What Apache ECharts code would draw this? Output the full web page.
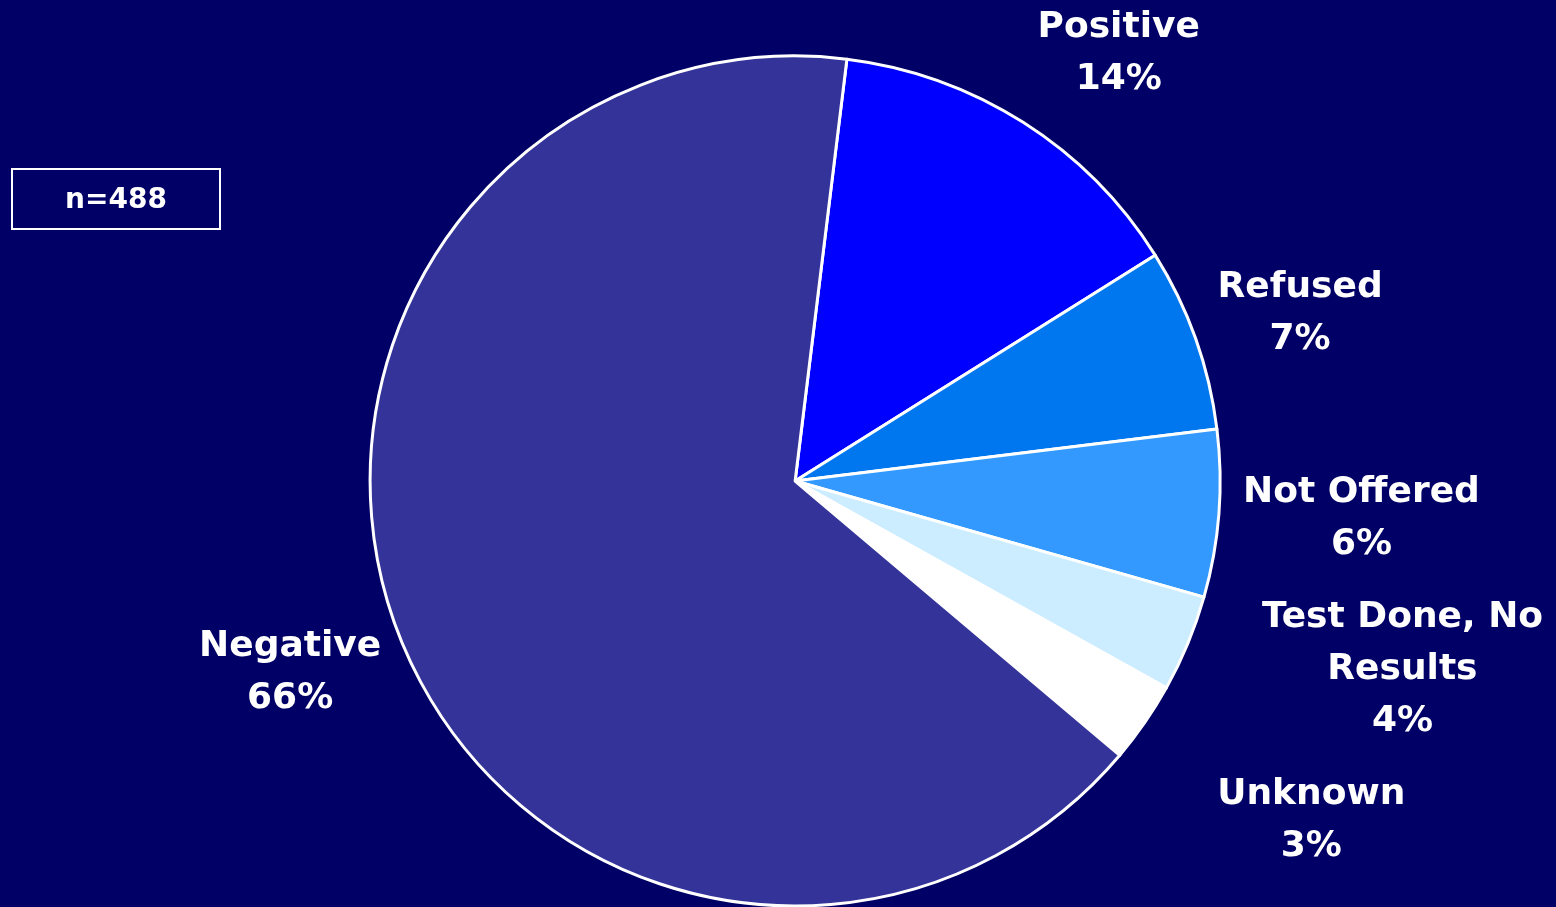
<!DOCTYPE html>
<html>
<head>
<meta charset="utf-8">
<script src="https://cdn.jsdelivr.net/npm/echarts@6/dist/echarts.min.js"></script>
<style>
html,body{margin:0;padding:0;background:#000066;}
#chart{width:1556px;height:907px;}
</style>
</head>
<body>
<div id="chart"></div>
<script>
// Data (counts out of n = 488)
const categories = ['Positive', 'Refused', 'Not Offered', 'Test Done, No Results', 'Unknown', 'Negative'];
const counts = [69, 34, 31, 18, 15, 321];
const sampleLabel = 'n=488';
const colors = ['#0000FF', '#0077EE', '#3399FF', '#CCECFF', '#FFFFFF', '#333399'];
// small label nudges (layout only), per slice [dx, dy]
const labelNudge = [[-4, -48], [-2, -17], [-1, 3], [42, 17], [47, 52], [10, 27]];

function wrap(name, maxChars) {
  const words = name.split(' ');
  const lines = [];
  let cur = '';
  words.forEach(w => {
    const t = cur ? cur + ' ' + w : w;
    if (t.length > maxChars && cur) { lines.push(cur); cur = w; } else { cur = t; }
  });
  if (cur) lines.push(cur);
  return lines;
}

const chart = echarts.init(document.getElementById('chart'), null, {renderer: 'canvas'});
const option = {
  backgroundColor: '#000066',
  animation: false,
  graphic: [{
    type: 'group',
    left: 11, top: 168,
    children: [
      {type: 'rect', shape: {x: 0, y: 0, width: 208, height: 60},
       style: {fill: 'transparent', stroke: '#FFFFFF', lineWidth: 2}},
      {type: 'text', x: 104, y: 32,
       style: {text: sampleLabel, fill: '#FFFFFF', font: 'bold 28px "DejaVu Sans"', align: 'center', verticalAlign: 'middle'}}
    ]
  }],
  series: [{
    type: 'pie',
    center: ['51.1%', '53.03%'],
    radius: 425,
    startAngle: 83,
    clockwise: true,
    avoidLabelOverlap: true,
    itemStyle: {borderColor: '#FFFFFF', borderWidth: 3},
    emphasis: {disabled: true},
    label: {
      show: true,
      position: 'outside',
      alignTo: 'none',
      distanceToLabelLine: 5,
      formatter: function (p) {
        const lines = wrap(p.name, 13).concat([Math.round(p.percent) + '%']);
        return lines.map(l => '{a|' + l + '}').join('\n');
      },
      rich: {
        a: {color: '#FFFFFF', fontFamily: 'DejaVu Sans', fontWeight: 'bold', fontSize: 36, lineHeight: 52, align: 'center'}
      }
    },
    labelLine: {show: false, length: 25, length2: 0},
    labelLayout: function (p) {
      const n = labelNudge[p.dataIndex] || [0, 0];
      return {dx: n[0], dy: n[1]};
    },
    data: categories.map((c, i) => ({name: c, value: counts[i], itemStyle: {color: colors[i]}}))
  }]
};
chart.setOption(option);
</script>
</body>
</html>
